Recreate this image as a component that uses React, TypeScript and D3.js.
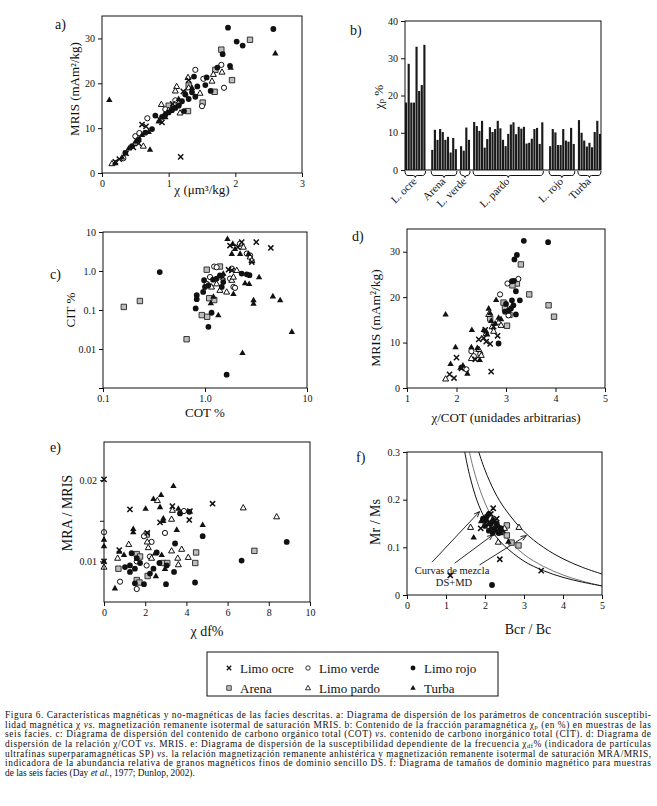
import { useEffect, useRef } from "react";
import * as d3 from "d3";

type Pt = [number, number];

const FONT = "Liberation Serif, DejaVu Serif, Times New Roman, serif";

// ---- a) chi vs MRIS
const aOcre: Pt[] = [[0.2,2.5],[0.26,3.1],[0.36,4.4],[0.47,5.7],[0.55,6.6],[0.6,10.8],[0.66,10.4],[0.9,11.3],[0.86,12],[1.18,3.6],[1.3,20.7],[1.22,18.2],[1.06,15.4]];
const aVerde: Pt[] = [[0.5,8.2],[0.56,8.9],[0.68,12.2],[1.4,23],[1.52,21],[1.5,14.9],[1.79,24.1],[1.83,19],[0.95,14.2],[1.1,16.2],[0.32,3.3]];
const aRojo: Pt[] = [[1.89,32.4],[2.57,32.1],[2.02,29.3],[2.11,28.4],[1.81,26.5],[1.92,23.9],[1.73,23.5],[1.57,21.3],[1.38,21.5],[1.55,19.6],[1.43,19.3],[1.63,18.3],[1.23,13.8],[1.3,16.5],[1.25,17.5],[1.35,18],[1.2,16],[1.1,14.5],[1.0,13.5],[0.9,12.5],[0.8,12.8],[0.75,9.8],[0.65,9],[0.55,7.5],[0.45,6],[0.35,4.5],[1.4,17],[1.15,15],[1.05,14],[0.95,13]];
const aArena: Pt[] = [[1.79,27.5],[2.22,29.7],[1.95,20.7],[1.69,18.1],[1.51,15.7],[1.29,13.8],[1.0,15],[1.15,15.6],[1.7,23],[1.3,19.5]];
const aPardo: Pt[] = [[1.12,19.3],[1.1,18.3],[1.29,21.3],[1.47,17.8],[1.65,20.5],[1.67,22],[1.8,22.5],[0.89,15.3],[1.17,13.4],[0.62,6],[0.15,2.1],[1.0,14],[1.3,19]];
const aTurba: Pt[] = [[0.11,16.3],[0.72,5.2],[2.6,26.7],[1.93,23.5],[0.4,5.5],[0.5,7],[0.6,8.5],[0.7,9.2],[0.85,11.5],[0.95,12.5],[1.05,14.5],[1.15,16.5],[1.25,17.8],[1.35,19],[0.2,2.2],[0.3,3.5]];

// ---- b) chi_p % bars per facies
const bGroups = ["L. ocre", "Arena", "L. verde", "L. pardo", "L. rojo", "Turba"];
const bOcre = [18.1, 28.5, 18.1, 18.1, 33.1, 21.2, 22.8, 33.6];
const bArena = [5.4, 10.8, 8.1, 11, 10.2, 8.1, 8.9, 4.7, 8.6, 5.6];
const bVerde = [6.4, 5.2, 11.4, 8.1];
const bPardo = [12.9, 11.8, 10.5, 13.2, 6, 8.3, 11.5, 10.2, 11, 13.2, 11.2, 8.1, 6.4, 9.7, 12.2, 12.8, 9.6, 11.6, 11.1, 11.6, 7.1, 7.3, 8.4, 11, 11.3, 7, 12.8];
const bRojo = [6.4, 11, 10.1, 6.7, 6.7, 11, 7.9, 7.6, 11.3, 7];
const bTurba = [13.4, 10, 7.9, 6.3, 7.3, 6.1, 10.2, 13.2, 9.7];
const bGapsAfter = [2, 1, 1, 2, 1, 0];

// ---- c) COT vs CIT (log-log)
const cOcre: Pt[] = [[3.18,5.5],[4.42,3.9],[1.76,4.5],[2.88,1.7],[1.7,1.08],[1.83,1.04],[1.5,0.7],[2.29,5.5],[2.1,4.1]];
const cVerde: Pt[] = [[1.23,1.3],[1.3,1.25],[1.12,0.7],[1.04,0.47],[1.76,0.64],[1.9,0.39],[1.97,0.37],[1.83,1.15],[2.57,2.8],[2.77,2.5],[2.2,5]];
const cRojo: Pt[] = [[0.36,0.94],[0.81,0.11],[1.08,0.037],[1.16,0.085],[1.63,0.0022],[2.29,0.86],[2.57,0.82],[2.73,0.78],[0.83,0.24],[0.83,0.19],[0.98,0.58],[1.0,0.39],[0.96,0.29],[1.08,0.43],[1.2,0.6],[1.3,0.64],[1.4,0.77],[1.51,0.52],[1.46,0.39]];
const cArena: Pt[] = [[0.16,0.12],[0.23,0.17],[0.66,0.0178],[0.93,0.074],[1.05,0.067],[1.23,0.18],[1.1,0.2],[1.04,1.08],[1.4,1.3]];
const cPardo: Pt[] = [[1.16,0.39],[1.3,0.47],[1.4,0.32],[1.63,0.29],[1.83,0.58],[2.05,1.04],[1.9,0.7],[2.77,2.3],[2.88,1.87],[2.38,4.1]];
const cTurba: Pt[] = [[1.66,6.7],[1.87,5],[1.83,2.77],[2.21,2.77],[1.97,3.7],[2.67,2.77],[2.47,0.49],[2.71,0.47],[3.39,0.7],[2.99,0.18],[2.99,0.146],[4.63,0.226],[5.46,0.18],[7.1,0.0277],[2.33,0.008],[1.35,0.074],[1.14,0.15],[1.21,0.22],[1.51,0.86],[1.9,0.26]];

// ---- d) chi/COT vs MRIS
const dOcre: Pt[] = [[1.86,3],[1.95,2.2],[2.0,6.7],[2.1,4.3],[2.38,6.3],[2.45,10.7],[2.55,11],[2.6,10.2],[2.68,9.7],[2.7,3.6],[2.83,11.5],[2.58,12.8],[2.75,13.5]];
const dVerde: Pt[] = [[3.03,23],[3.25,24],[2.88,20.6],[3.05,16],[2.3,8.1],[2.2,4.1],[2.48,7.5],[2.35,7]];
const dRojo: Pt[] = [[3.36,32.4],[3.85,32.1],[3.17,28.3],[3.22,29.3],[3.12,23.5],[3.16,23.6],[3.2,21.3],[3.28,19.3],[3.12,19.3],[3.15,18.2],[3.05,17],[2.98,16.8],[3.2,16.2],[2.85,9.8],[3.1,17.5],[3.0,18.5]];
const dArena: Pt[] = [[3.3,27.2],[3.22,23],[3.13,22.6],[3.47,20.6],[3.86,18.2],[3.97,15.7],[2.98,17.5],[3.07,16.1],[3.02,13.7],[2.68,15.3],[2.95,18.8]];
const dPardo: Pt[] = [[1.78,2],[2.85,14.5],[2.72,13.5],[2.6,12],[2.45,8.5],[2.5,7.2],[2.3,6.5],[2.75,12.5],[2.65,16.2],[2.9,13.8]];
const dTurba: Pt[] = [[1.78,16.2],[1.98,9],[1.88,5.3],[2.08,4.5],[2.13,5],[2.22,3.2],[2.31,12.8],[2.3,9],[2.42,8.8],[2.47,6.2],[2.65,17.5],[2.68,16.5],[2.8,19.4],[2.7,14.8],[2.6,12.5],[2.78,14.2],[2.85,15.5],[2.55,12.8],[2.9,15.2],[2.62,11.8]];

// ---- e) chi df% vs MRA/MRIS
const eOcre: Pt[] = [[0,0.0201],[1.26,0.0164],[3.32,0.0168],[5.27,0.0171],[4.14,0.0151],[2.1,0.0135],[0,0.01],[0.74,0.0114],[2.72,0.0148],[4.17,0.0162]];
const eVerde: Pt[] = [[0,0.0136],[0.78,0.0075],[1.59,0.0066],[1.94,0.0131],[2.96,0.0135],[3.88,0.0162],[2.31,0.0124],[2.07,0.0095],[1.59,0.01],[2.23,0.0106]];
const eRojo: Pt[] = [[3.45,0.0122],[4.79,0.0131],[4.42,0.0074],[6.68,0.0101],[8.87,0.0124],[3.01,0.0072],[1.94,0.0072],[1.34,0.011],[1.26,0.0095],[1.5,0.0091],[1.59,0.0104],[1.75,0.0098],[2.56,0.0111],[2.69,0.0098],[3.04,0.0095],[3.4,0.0087],[1.26,0.0087],[2.4,0.0091],[1.02,0.0093],[4.14,0.0161],[3.69,0.0159],[2.23,0.0085],[1.5,0.0073]];
const eArena: Pt[] = [[0.7,0.0091],[1.59,0.0109],[2.07,0.0133],[2.12,0.0082],[1.59,0.0077],[1.72,0.0074],[2.88,0.0098],[3.07,0.0098],[4.47,0.0111],[4.43,0.0098],[7.3,0.0113],[1.75,0.0106]];
const ePardo: Pt[] = [[0.66,0.0104],[1.2,0.0121],[2.1,0.0124],[2.15,0.0117],[2.59,0.0175],[3.32,0.0163],[3.28,0.0152],[3.28,0.0113],[3.77,0.0115],[3.58,0.0104],[3.61,0.0096],[4.09,0.0105],[6.76,0.0166],[8.38,0.0155],[0,0.0093],[2.31,0.0104]];
const eTurba: Pt[] = [[0,0.0127],[0,0.0119],[0.53,0.0067],[1.42,0.014],[1.42,0.0136],[2.02,0.0165],[2.4,0.0177],[2.77,0.0182],[3.37,0.0193],[2.72,0.0167],[2.88,0.0153],[2.88,0.015],[3.61,0.0165],[3.53,0.0139],[4.79,0.0145],[0,0.01],[0.74,0.0112],[0.97,0.0108],[2.52,0.0082],[2.96,0.0091],[2.48,0.011],[2.8,0.0108]];

// ---- f) Day plot
const fOcre: Pt[] = [[2.21,0.182],[1.89,0.14],[2.38,0.075],[3.44,0.051],[1.11,0.041],[2.15,0.17],[2.3,0.16]];
const fVerde: Pt[] = [[2.05,0.15],[2.2,0.145]];
const fRojo: Pt[] = [[2.18,0.021],[1.95,0.16],[2.05,0.165],[2.15,0.15],[2.25,0.14],[2.35,0.13],[2.1,0.17],[2.0,0.145],[2.3,0.15],[2.2,0.13],[2.4,0.14],[2.1,0.135]];
const fArena: Pt[] = [[2.56,0.146],[2.56,0.125],[2.68,0.11],[2.86,0.104],[2.44,0.135]];
const fPardo: Pt[] = [[1.63,0.142],[2.34,0.111],[2.87,0.142],[2.5,0.14]];
const fTurba: Pt[] = [[1.71,0.121],[2.0,0.155],[2.1,0.15],[2.2,0.16],[2.3,0.135],[2.4,0.13],[2.25,0.155],[1.9,0.155],[2.15,0.14],[2.45,0.135],[2.35,0.145],[2.05,0.158],[2.6,0.112]];
const fCurveInner: Pt[] = [[1.48,0.3],[1.6,0.253],[1.8,0.197],[2.0,0.16],[2.25,0.126],[2.5,0.103],[3,0.071],[3.5,0.051],[4,0.037],[4.5,0.027],[5,0.019]];
const fCurveMid: Pt[] = [[1.6,0.3],[1.7,0.266],[1.8,0.238],[2.0,0.193],[2.25,0.153],[2.5,0.125],[3,0.085],[3.5,0.06],[4,0.042],[4.5,0.029],[5,0.019]];
const fCurveOuter: Pt[] = [[1.84,0.3],[2.0,0.262],[2.25,0.216],[2.5,0.182],[3,0.133],[3.5,0.1],[4,0.076],[4.5,0.058],[5,0.044]];
const fArrows: [Pt, Pt][] = [[[0.64,0.0687],[1.86,0.175]],[[1.22,0.0666],[2.2,0.126]],[[1.86,0.063],[3.06,0.1247]]];

const LEGEND = [
  ["ocre", "Limo ocre"], ["verde", "Limo verde"], ["rojo", "Limo rojo"],
  ["arena", "Arena"], ["pardo", "Limo pardo"], ["turba", "Turba"],
];

const CAPTION = [
  "Figura 6. Características magnéticas y no-magnéticas de las facies descritas. a: Diagrama de dispersión de los parámetros de concentración susceptibi-",
  "lidad magnética χ *vs.* magnetización remanente isotermal de saturación MRIS. b: Contenido de la fracción paramagnética χ_p_ (en %) en muestras de las",
  "seis facies. c: Diagrama de dispersión del contenido de carbono orgánico total (COT) *vs.* contenido de carbono inorgánico total (CIT). d: Diagrama de",
  "dispersión de la relación χ/COT *vs.* MRIS. e: Diagrama de dispersión de la susceptibilidad dependiente de la frecuencia χ_df_% (indicadora de partículas",
  "ultrafinas superparamagnéticas SP) *vs.* la relación magnetización remanente anhistérica y magnetización remanente isotermal de saturación MRA/MRIS,",
  "indicadora de la abundancia relativa de granos magnéticos finos de dominio sencillo DS. f: Diagrama de tamaños de dominio magnético para muestras",
  "de las seis facies (Day *et al.*, 1977; Dunlop, 2002).",
];

const MARKS: Record<string, { d: string; fill: string; stroke: string; sw: number }> = {
  ocre: { d: "M-2.6,-2.6L2.6,2.6M-2.6,2.6L2.6,-2.6", fill: "none", stroke: "#111", sw: 1.5 },
  verde: { d: "M2.6,0A2.6,2.6 0 1,1 -2.6,0A2.6,2.6 0 1,1 2.6,0Z", fill: "#fff", stroke: "#111", sw: 1 },
  rojo: { d: "M2.9,0A2.9,2.9 0 1,1 -2.9,0A2.9,2.9 0 1,1 2.9,0Z", fill: "#111", stroke: "none", sw: 0 },
  arena: { d: "M-2.7,-2.7h5.4v5.4h-5.4Z", fill: "#bdbdbd", stroke: "#222", sw: 0.9 },
  pardo: { d: "M0,-3.2L3,2.1L-3,2.1Z", fill: "#fff", stroke: "#111", sw: 1 },
  turba: { d: "M0,-3.4L3.2,2.2L-3.2,2.2Z", fill: "#111", stroke: "none", sw: 0 },
};

function points(g: any, pts: Pt[], kind: string, x: any, y: any, s = 1) {
  const m = MARKS[kind];
  g.append("g")
    .selectAll("path")
    .data(pts)
    .join("path")
    .attr("transform", (d: Pt) => `translate(${x(d[0])},${y(d[1])}) scale(${s})`)
    .attr("d", m.d)
    .attr("fill", m.fill)
    .attr("stroke", m.stroke)
    .attr("stroke-width", m.sw);
}

function series(g: any, x: any, y: any, sets: Record<string, Pt[]>) {
  ["arena", "verde", "pardo", "rojo", "turba", "ocre"].forEach((k) => {
    if (sets[k]) points(g, sets[k], k, x, y);
  });
}

function styleAxis(a: any) {
  a.attr("font-family", null).attr("font-size", null);
  a.select(".domain").remove();
  a.selectAll("line").attr("stroke", "#111");
  a.selectAll("text").style("font-family", FONT).style("font-size", "10px").attr("fill", "#111");
}

function frame(g: any, x: any, y: any, xTicks: number[] | null, xFmt: any, yTicks: number[], yFmt: any) {
  const [l, r] = x.range();
  const [b, t] = y.range();
  g.append("rect")
    .attr("x", l).attr("y", t).attr("width", r - l).attr("height", b - t)
    .attr("fill", "none").attr("stroke", "#111").attr("stroke-width", 1);
  if (xTicks) {
    const ax = g.append("g").attr("transform", `translate(0,${b})`)
      .call(d3.axisBottom(x).tickValues(xTicks).tickFormat(xFmt).tickSize(4).tickPadding(3));
    styleAxis(ax);
  }
  const ay = g.append("g").attr("transform", `translate(${l},0)`)
    .call(d3.axisLeft(y).tickValues(yTicks).tickFormat(yFmt).tickSize(4).tickPadding(3));
  styleAxis(ay);
}

// text with optional _sub_ and *italic* markup
function rich(t: any, s: string, subSize: number) {
  s.split(/(\*[^*]+\*|_[^_]+_)/).filter(Boolean).forEach((part) => {
    if (part.startsWith("*")) t.append("tspan").attr("font-style", "italic").text(part.slice(1, -1));
    else if (part.startsWith("_"))
      t.append("tspan").attr("baseline-shift", "-15%").style("font-size", `${subSize}px`).text(part.slice(1, -1));
    else t.append("tspan").text(part);
  });
}

function label(g: any, x: number, y: number, s: string, size: number, rot = false, anchor = "middle") {
  const t = g.append("text")
    .style("font-family", FONT).style("font-size", `${size}px`).attr("fill", "#111")
    .attr("text-anchor", anchor);
  if (rot) t.attr("transform", `translate(${x},${y}) rotate(-90)`);
  else t.attr("x", x).attr("y", y);
  rich(t, s, size * 0.7);
  return t;
}

export default function App() {
  const ref = useRef<SVGSVGElement>(null);

  useEffect(() => {
    if (!ref.current) return;
    const svg = d3.select(ref.current);
    svg.selectAll("*").remove();
    svg.append("rect").attr("width", 657).attr("height", 806).attr("fill", "#fff");

    const f1 = d3.format(".0f");

    // a)
    {
      const g = svg.append("g");
      const x = d3.scaleLinear().domain([0, 3]).range([102, 302]);
      const y = d3.scaleLinear().domain([0, 35]).range([173, 16]);
      series(g, x, y, { ocre: aOcre, verde: aVerde, rojo: aRojo, arena: aArena, pardo: aPardo, turba: aTurba });
      frame(g, x, y, [0, 1, 2, 3], f1, [0, 10, 20, 30], f1);
      label(g, 55, 29, "a)", 14, false, "start");
      label(g, 202, 194, "χ (μm³/kg)", 13);
      label(g, 79, 89, "MRIS (mAm²/kg)", 13, true);
    }

    // b)
    {
      const g = svg.append("g");
      const groups = [bOcre, bArena, bVerde, bPardo, bRojo, bTurba];
      const slots: string[] = [];
      const bars: { slot: string; v: number }[] = [];
      const spans: { name: string; a: string; b: string }[] = [];
      groups.forEach((vals, gi) => {
        vals.forEach((v, i) => {
          const s = `${gi}-${i}`;
          slots.push(s);
          bars.push({ slot: s, v });
        });
        spans.push({ name: bGroups[gi], a: `${gi}-0`, b: `${gi}-${vals.length - 1}` });
        for (let k = 0; k < bGapsAfter[gi]; k++) slots.push(`gap${gi}-${k}`);
      });
      const x = d3.scaleBand().domain(slots).range([405, 601]).paddingInner(0.18);
      const y = d3.scaleLinear().domain([0, 40]).range([170, 21]);
      g.append("g").selectAll("rect").data(bars).join("rect")
        .attr("x", (d) => x(d.slot)!)
        .attr("width", x.bandwidth())
        .attr("y", (d) => y(d.v))
        .attr("height", (d) => y(0) - y(d.v))
        .attr("fill", "#1a1a1a");
      frame(g, x, y, null, null, [0, 10, 20, 30, 40], f1);
      spans.forEach((sp) => {
        const a = x(sp.a)!;
        const b = x(sp.b)! + x.bandwidth();
        const m = (a + b) / 2;
        g.append("path")
          .attr("d", `M${a},171 Q${a},175.5 ${a + 3},175.5 H${m - 2} Q${m},175.5 ${m},177.5 Q${m},175.5 ${m + 2},175.5 H${b - 3} Q${b},175.5 ${b},171`)
          .attr("fill", "none").attr("stroke", "#111").attr("stroke-width", 1);
        g.append("text")
          .attr("transform", `translate(${m + 2},182) rotate(-45)`)
          .attr("text-anchor", "end")
          .style("font-family", FONT).style("font-size", "11px").attr("fill", "#111")
          .text(sp.name);
      });
      label(g, 350, 35, "b)", 14, false, "start");
      label(g, 383, 97, "χ_p_ %", 13, true);
    }

    // c)
    {
      const g = svg.append("g");
      const x = d3.scaleLog().domain([0.1, 10]).range([103, 307]);
      const y = d3.scaleLog().domain([0.001, 10]).range([388, 232]);
      series(g, x, y, { ocre: cOcre, verde: cVerde, rojo: cRojo, arena: cArena, pardo: cPardo, turba: cTurba });
      const fmt = (d: number) => (d === 1 ? "1.0" : d === 0.001 ? "" : String(d));
      frame(g, x, y, [0.1, 1, 10], fmt, [0.001, 0.01, 0.1, 1, 10], fmt);
      label(g, 50, 279, "c)", 14, false, "start");
      label(g, 205, 417, "COT %", 13);
      label(g, 75, 310, "CIT %", 13, true);
    }

    // d)
    {
      const g = svg.append("g");
      const x = d3.scaleLinear().domain([1, 5]).range([407, 605]);
      const y = d3.scaleLinear().domain([0, 35]).range([388, 229]);
      series(g, x, y, { ocre: dOcre, verde: dVerde, rojo: dRojo, arena: dArena, pardo: dPardo, turba: dTurba });
      frame(g, x, y, [1, 2, 3, 4, 5], f1, [0, 10, 20, 30], f1);
      label(g, 352, 241, "d)", 14, false, "start");
      label(g, 506, 422, "χ/COT (unidades arbitrarias)", 13);
      label(g, 380, 318, "MRIS (mAm²/kg)", 13.5, true);
    }

    // e)
    {
      const g = svg.append("g");
      const x = d3.scaleLinear().domain([0, 10]).range([104, 310]);
      const y = d3.scaleLinear().domain([0.005, 0.0247]).range([602, 442]);
      series(g, x, y, { ocre: eOcre, verde: eVerde, rojo: eRojo, arena: eArena, pardo: ePardo, turba: eTurba });
      const fy = (d: number) => (d === 0.01 ? "0.01" : d === 0.02 ? "0.02" : "");
      frame(g, x, y, [0, 2, 4, 6, 8, 10], f1, [0.01, 0.015, 0.02], fy);
      label(g, 50, 452, "e)", 14, false, "start");
      label(g, 207, 636, "χ df%", 14);
      label(g, 72, 513, "MRA / MRIS", 14, true);
    }

    // f)
    {
      const g = svg.append("g");
      const x = d3.scaleLinear().domain([0, 5]).range([407, 602]);
      const y = d3.scaleLinear().domain([0, 0.3]).range([595, 452]);
      const line = d3.line<Pt>().x((d) => x(d[0])).y((d) => y(d[1])).curve(d3.curveCatmullRom);
      [[fCurveOuter, "#111"], [fCurveMid, "#777"], [fCurveInner, "#111"]].forEach(([c, col]) => {
        g.append("path").attr("d", line(c as Pt[])!).attr("fill", "none")
          .attr("stroke", col as string).attr("stroke-width", 1);
      });
      fArrows.forEach(([p0, p1]) => {
        const x0 = x(p0[0]), y0 = y(p0[1]), x1 = x(p1[0]), y1 = y(p1[1]);
        const ang = Math.atan2(y1 - y0, x1 - x0);
        const h = 6, w = 0.4;
        g.append("path")
          .attr("d", `M${x0},${y0}L${x1},${y1}M${x1 - h * Math.cos(ang - w)},${y1 - h * Math.sin(ang - w)}L${x1},${y1}L${x1 - h * Math.cos(ang + w)},${y1 - h * Math.sin(ang + w)}`)
          .attr("fill", "none").attr("stroke", "#111").attr("stroke-width", 0.9);
      });
      series(g, x, y, { ocre: fOcre, verde: fVerde, rojo: fRojo, arena: fArena, pardo: fPardo, turba: fTurba });
      frame(g, x, y, [0, 1, 2, 3, 4, 5], f1, [0, 0.1, 0.2, 0.3], (d: number) => (d === 0 ? "0" : d3.format(".1f")(d)));
      label(g, 356, 462, "f)", 14, false, "start");
      label(g, 528, 634, "Bcr / Bc", 14);
      label(g, 380, 522, "Mr / Ms", 14, true);
      label(g, 452, 574, "Curvas de mezcla", 10.5);
      label(g, 454, 585.5, "DS+MD", 10.5);
    }

    // legend
    {
      const g = svg.append("g");
      g.append("rect").attr("x", 207).attr("y", 652).attr("width", 291).attr("height", 44)
        .attr("fill", "none").attr("stroke", "#111").attr("stroke-width", 1);
      const cols = [229, 308, 413];
      const rows = [668, 688];
      LEGEND.forEach(([k, name], i) => {
        const cx = cols[i % 3];
        const cy = rows[Math.floor(i / 3)];
        points(g, [[0, 0]], k, (v: number) => cx + v, (v: number) => cy + v, 0.85);
        g.append("text").attr("x", cx + 11).attr("y", cy + 4.5)
          .style("font-family", FONT).style("font-size", "13px").attr("fill", "#111").text(name);
      });
    }

    // caption
    {
      const g = svg.append("g");
      CAPTION.forEach((ln, i) => {
        const t = g.append("text").attr("x", 5).attr("y", 718 + i * 9.65)
          .style("font-family", FONT).style("font-size", "9.4px").attr("fill", "#111");
        if (i < CAPTION.length - 1) t.attr("textLength", 646).attr("lengthAdjust", "spacing");
        rich(t, ln, 6.5);
      });
    }
  }, []);

  return (
    <svg
      ref={ref}
      width={657}
      height={806}
      style={{ position: "absolute", left: 0, top: 0, display: "block" }}
    />
  );
}
